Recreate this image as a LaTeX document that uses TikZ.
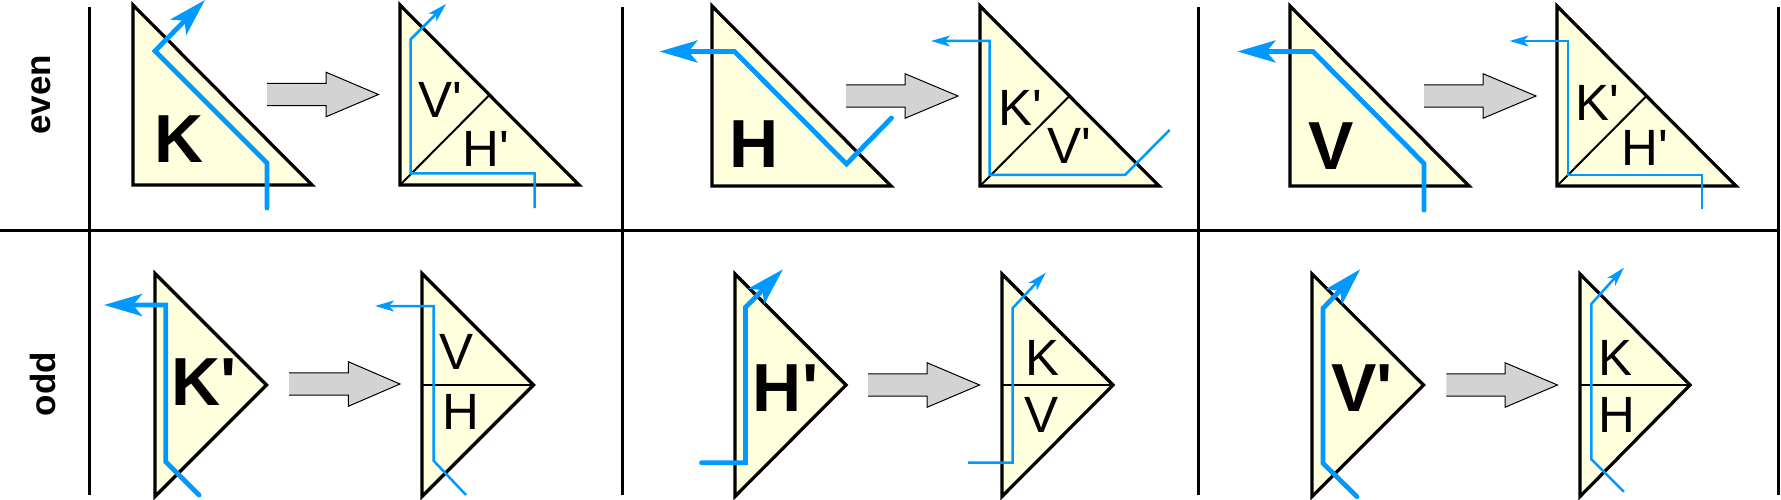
\documentclass[tikz,border=0pt]{standalone}
\usepackage{fontspec}
\setmainfont{Liberation Sans}
\usetikzlibrary{arrows.meta}
\definecolor{pathblue}{RGB}{0,153,255}
\definecolor{trifill}{RGB}{255,255,221}
\definecolor{arrowgray}{RGB}{211,211,211}
\newcommand{\myq}{\textquotesingle}
\begin{document}
\begin{tikzpicture}[x=1pt,y=-1pt,
  grid/.style={line width=3pt},
  tri/.style={draw=black, fill=trifill, line width=3.2pt, line join=miter},
  split/.style={line width=2pt},
  bigpath/.style={draw=pathblue, line width=4.8pt, line cap=round, -{Stealth[length=38pt,width=22pt,inset=9pt]}},
  smallpath/.style={draw=pathblue, line width=2.5pt, -{Stealth[length=19pt,width=11pt,inset=5pt]}},
  blockarrow/.style={fill=arrowgray, draw=black, line width=1pt},
  biglabel/.style={font=\fontsize{68}{68}\selectfont\bfseries, inner sep=0pt},
  smalllabel/.style={font=\fontsize{51}{51}\selectfont, inner sep=0pt},
  rowlabel/.style={font=\fontsize{35}{35}\selectfont\bfseries, rotate=90, inner sep=0pt}]
\useasboundingbox (0,0) rectangle (1781,500);
\fill[white] (0,0) rectangle (1781,500);

% grid
\draw[grid] (0,230.5) -- (1779,230.5);
\draw[grid] (89,7) -- (89,495);
\draw[grid] (622,7) -- (622,495);
\draw[grid] (1198,7) -- (1198,495);
\draw[grid] (1778,7) -- (1778,495);

% row labels
\node[rowlabel] (even) at (41,95) {even};
\node[rowlabel] (odd) at (43,384) {odd};

% ===== top row =====
% cell 1
\draw[tri] (133,5) -- (133,185) -- (312,185) -- cycle;
\node[biglabel] (lK) at (179,139) {K};
\draw[blockarrow] (267,83.3) -- (326,83.3) -- (326,72.2) -- (378.5,94.5) -- (326,116.8) -- (326,105.7) -- (267,105.7);
\draw[tri] (400,5) -- (400,185) -- (579,185) -- cycle;
\draw[split] (400,185) -- (489.5,95);
\node[smalllabel] (lV1) at (440,100) {V\myq};
\node[smalllabel] (lH1) at (486,149) {H\myq};
\draw[bigpath] (267,208) -- (267,163) -- (155,51) -- (205,0);
\draw[smallpath] (534.5,208) -- (534.5,173.5) -- (410.5,173.5) -- (410.5,39.5) -- (446,4);

% cell 2
\draw[tri] (712,6) -- (712,186) -- (891,186) -- cycle;
\node[biglabel] (lH) at (754,144) {H};
\draw[blockarrow] (846,84.8) -- (905,84.8) -- (905,73.7) -- (958,96) -- (905,118.3) -- (905,107.2) -- (846,107.2);
\draw[tri] (980,6) -- (980,186) -- (1159,186) -- cycle;
\draw[split] (980,186) -- (1069.5,96);
\node[smalllabel] (lK2) at (1020,107.5) {K\myq};
\node[smalllabel] (lV2) at (1069,146) {V\myq};
\draw[bigpath] (891.5,118) -- (846.5,164) -- (734.5,51.5) -- (659.5,51.5);
\draw[smallpath] (1169.5,130) -- (1125,175) -- (989.5,175) -- (989.5,41) -- (931,41);

% cell 3
\draw[tri] (1290,6) -- (1290,186) -- (1469,186) -- cycle;
\node[biglabel] (lV) at (1331,146) {V};
\draw[blockarrow] (1424,84.8) -- (1483,84.8) -- (1483,73.7) -- (1536,96) -- (1483,118.3) -- (1483,107.2) -- (1424,107.2);
\draw[tri] (1557,6) -- (1557,186) -- (1736,186) -- cycle;
\draw[split] (1557,186) -- (1646.5,96);
\node[smalllabel] (lK3) at (1597,102.5) {K\myq};
\node[smalllabel] (lH3) at (1645,147.5) {H\myq};
\draw[bigpath] (1424,210) -- (1424,163.5) -- (1313,51.5) -- (1237.5,51.5);
\draw[smallpath] (1702,209) -- (1702,175) -- (1568,175) -- (1568,41) -- (1509.5,41);

% ===== bottom row =====
% cell 1
\draw[tri] (155,273.5) -- (155,496.5) -- (266.5,385) -- cycle;
\node[biglabel] (lKp) at (203.7,381.7) {K\myq};
\draw[blockarrow] (289,372.8) -- (348.3,372.8) -- (348.3,361.7) -- (400,384) -- (348.3,406.3) -- (348.3,395.2) -- (289,395.2);
\draw[tri] (422,273.5) -- (422,496.5) -- (533.5,385) -- cycle;
\draw[split] (422,385) -- (533.5,385);
\node[smalllabel] (lV4) at (457,351.7) {V};
\node[smalllabel] (lH4) at (461,411.7) {H};
\draw[bigpath] (199,495) -- (165.7,461.7) -- (165.7,305) -- (104,305);
\draw[smallpath] (466,495) -- (433.6,460.7) -- (433.6,306) -- (375,306);

% cell 2
\draw[tri] (735,274) -- (735,496.5) -- (846,385) -- cycle;
\node[biglabel] (lHp) at (785.6,388) {H\myq};
\draw[blockarrow] (868,373.8) -- (927,373.8) -- (927,362.7) -- (979.6,385) -- (927,407.3) -- (927,396.2) -- (868,396.2);
\draw[tri] (1002,274) -- (1002,496.5) -- (1113,385) -- cycle;
\draw[split] (1002,385) -- (1113,385);
\node[smalllabel] (lK5) at (1042.6,358.3) {K};
\node[smalllabel] (lV5) at (1041.8,415) {V};
\draw[bigpath] (701.5,462.7) -- (745.5,462.7) -- (745.5,307.3) -- (783,269.3);
\draw[smallpath] (968.2,462.7) -- (1012.5,462.7) -- (1012.5,308.3) -- (1045.8,272.7);

% cell 3
\draw[tri] (1312,274) -- (1312,496.5) -- (1423.5,385) -- cycle;
\node[biglabel] (lVp) at (1362,388) {V\myq};
\draw[blockarrow] (1446.4,373.8) -- (1505,373.8) -- (1505,362.7) -- (1557.5,385) -- (1505,407.3) -- (1505,396.2) -- (1446.4,396.2);
\draw[tri] (1580,274) -- (1580,496.5) -- (1690,385) -- cycle;
\draw[split] (1580,385) -- (1690,385);
\node[smalllabel] (lK6) at (1615,358.3) {K};
\node[smalllabel] (lH6) at (1617,415) {H};
\draw[bigpath] (1357,496.7) -- (1323,463.3) -- (1323,308.3) -- (1360.2,269.3);
\draw[smallpath] (1623.9,491.7) -- (1591.3,459.3) -- (1591.3,304) -- (1623.9,267.7);
\end{tikzpicture}
\end{document}
